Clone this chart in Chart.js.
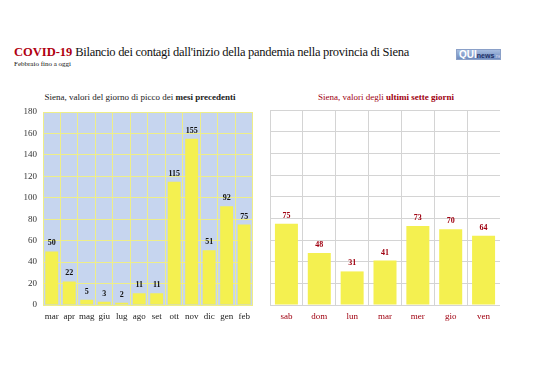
<!DOCTYPE html>
<html><head><meta charset="utf-8">
<script src="https://cdn.jsdelivr.net/npm/chart.js@4.4.0/dist/chart.umd.min.js"></script>
<style>
html,body{margin:0;padding:0;background:#fff;width:538px;height:380px;overflow:hidden;font-family:"Liberation Serif","DejaVu Serif",serif;}
#title{position:absolute;left:14px;top:45px;font-size:12.5px;letter-spacing:-0.28px;color:#111;white-space:nowrap;}
#title b{color:#b00010;letter-spacing:0;}
#sub{position:absolute;left:14px;top:60px;font-size:7px;color:#111;}
#logo{position:absolute;left:456px;top:49px;width:45px;height:11px;background:linear-gradient(#a7bde0,#6f8cbf);border:1px solid #8aa0c8;box-sizing:border-box;font-family:"Liberation Sans",sans-serif;color:#fff;font-size:10px;font-weight:bold;line-height:10px;padding-left:2px;white-space:nowrap;overflow:hidden;}
#logo span{font-size:7px;color:#1d2f66;}
#logo i{font-size:5px;color:#dde;font-style:normal;font-weight:normal;}
.ct{position:absolute;top:92px;font-size:9px;white-space:nowrap;transform:translateX(-50%);}
#ct1{left:140px;color:#222;}
#ct2{left:386px;color:#a00010;}
canvas{position:absolute;}
#c1{left:0;top:100px;}
#c2{left:270px;top:100px;}
</style></head><body>
<div id="title"><b>COVID-19</b> Bilancio dei contagi dall'inizio della pandemia nella provincia di Siena</div>
<div id="sub">Febbraio fino a oggi</div>
<div id="logo">QUI<span>news</span><i>.net</i></div>
<div class="ct" id="ct1">Siena, valori del giorno di picco dei <b>mesi precedenti</b></div>
<div class="ct" id="ct2">Siena, valori degli <b>ultimi sette giorni</b></div>
<canvas id="c1" width="256" height="230"></canvas>
<canvas id="c2" width="230" height="230"></canvas>
<script>
const months = ["mar","apr","mag","giu","lug","ago","set","ott","nov","dic","gen","feb"];
const monthPeaks = [50,22,5,3,2,11,11,115,155,51,92,75];
const days = ["sab","dom","lun","mar","mer","gio","ven"];
const dayValues = [75,48,31,41,73,70,64];
const yMin = 0, yMax = 180, yStep = 20;

const FONT = "'Liberation Serif','DejaVu Serif',serif";

const labelsPlugin = {
  id: 'vlabels',
  afterDatasetsDraw(chart, args, opts) {
    const ctx = chart.ctx;
    const meta = chart.getDatasetMeta(0);
    ctx.save();
    ctx.font = "bold 8px " + FONT;
    ctx.fillStyle = opts.color;
    ctx.textAlign = 'center';
    ctx.textBaseline = 'bottom';
    meta.data.forEach((bar, i) => {
      ctx.fillText(chart.data.datasets[0].data[i], bar.x, bar.y - 4);
    });
    ctx.restore();
  }
};
const bgPlugin = {
  id: 'plotbg',
  beforeDraw(chart, args, opts) {
    if (!opts.color) return;
    const a = chart.chartArea, ctx = chart.ctx;
    ctx.save();
    ctx.fillStyle = opts.color;
    ctx.fillRect(a.left, a.top, a.right - a.left, a.bottom - a.top);
    ctx.restore();
  }
};

function makeChart(id, labels, data, o) {
  return new Chart(document.getElementById(id), {
    type: 'bar',
    data: { labels, datasets: [{ data, backgroundColor: '#f4f050', borderWidth: 0,
      categoryPercentage: 1, barPercentage: o.barPct }] },
    options: {
      responsive: false, animation: false,
      layout: { padding: { top: o.padTop, right: o.padRight, left: 0, bottom: 0 } },
      plugins: { legend: { display: false }, tooltip: { enabled: false },
        vlabels: { color: o.labelColor }, plotbg: { color: o.bg } },
      scales: {
        x: {
          grid: { color: o.grid, drawTicks: false, offset: true },
          border: { color: o.grid },
          ticks: { color: o.tickColor, font: { family: FONT, size: 9 }, padding: 6,
            autoSkip: false, maxRotation: 0, minRotation: 0 },
          afterFit(s) { s.height = 25; }
        },
        y: {
          min: yMin, max: yMax,
          grid: { color: o.grid, drawTicks: false },
          border: { color: o.grid },
          ticks: { display: o.showY, stepSize: yStep, color: '#333', font: { family: FONT, size: 9 }, padding: 6 },
          afterFit(s) { s.width = o.yWidth; }
        }
      }
    },
    plugins: [labelsPlugin, bgPlugin]
  });
}

makeChart('c1', months, monthPeaks, { barPct: 0.74, padTop: 12, padRight: 3, labelColor: '#111', bg: '#c6d5ef', grid: '#eeee88', tickColor: '#222', showY: true, yWidth: 43 });
makeChart('c2', days, dayValues, { barPct: 0.7, padTop: 10, padRight: 0, labelColor: '#a00010', bg: null, grid: '#d4d4d4', tickColor: '#a00010', showY: false, yWidth: 0 });
</script>
</body></html>
